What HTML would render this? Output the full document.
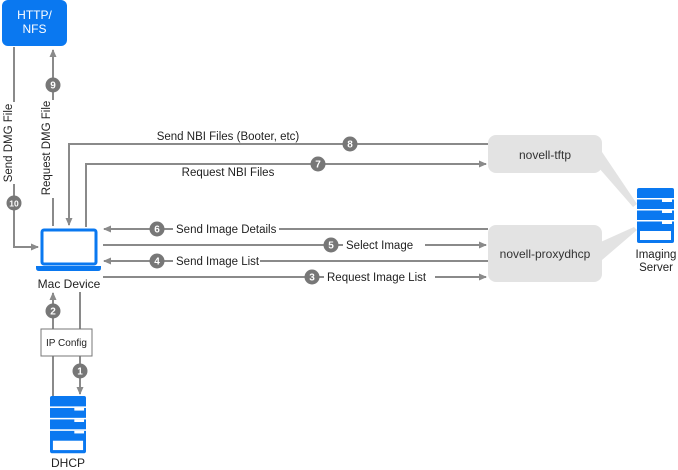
<!DOCTYPE html>
<html><head><meta charset="utf-8"><style>
html,body{margin:0;padding:0;background:#fff;}
svg{display:block;font-family:"Liberation Sans","DejaVu Sans",sans-serif;}
</style></head><body>
<svg width="678" height="470" viewBox="0 0 678 470" xmlns="http://www.w3.org/2000/svg">
<defs>
<marker id="ar" markerWidth="8" markerHeight="8" refX="7" refY="4" orient="auto" markerUnits="userSpaceOnUse">
<path d="M0,0.5 L8,4 L0,7.5 Z" fill="#8a8a8a"/></marker>
<g id="srv">
<rect x="0" y="0" width="37" height="55" rx="2" fill="#0a78f0"/>
<rect x="0" y="10" width="37" height="1.5" fill="#fff"/>
<rect x="0" y="21" width="37" height="1.5" fill="#fff"/>
<rect x="0" y="32" width="37" height="1.5" fill="#fff"/>
<rect x="25" y="11.5" width="10" height="2.5" fill="#fff"/>
<rect x="25" y="22.5" width="10" height="2.5" fill="#fff"/>
<rect x="25" y="33.5" width="10" height="2.5" fill="#fff"/>
<rect x="3" y="43" width="31" height="9" fill="#fff"/>
</g>
</defs>
<g stroke="#8a8a8a" stroke-width="2" fill="none">
<polyline points="14,47 14,247 38,247" marker-end="url(#ar)"/>
<line x1="53" y1="226" x2="53" y2="50" marker-end="url(#ar)"/>
<polyline points="488,144 69,144 69,225" marker-end="url(#ar)"/>
<polyline points="86,227 86,164 486,164" marker-end="url(#ar)"/>
<line x1="488" y1="229" x2="104" y2="229" marker-end="url(#ar)"/>
<line x1="103" y1="245" x2="486" y2="245" marker-end="url(#ar)"/>
<line x1="488" y1="261" x2="104" y2="261" marker-end="url(#ar)"/>
<line x1="103" y1="277" x2="486" y2="277" marker-end="url(#ar)"/>
<line x1="53" y1="396" x2="53" y2="293" marker-end="url(#ar)"/>
<line x1="80" y1="292" x2="80" y2="394" marker-end="url(#ar)"/>
</g>
<polygon points="592,160 602,152 637,204 633,207" fill="#e3e3e3"/>
<polygon points="594,245 602,260 637,230 634,227" fill="#e3e3e3"/>
<rect x="488" y="135" width="114" height="38" rx="8" fill="#e3e3e3"/>
<rect x="488" y="225" width="114" height="57" rx="8" fill="#e3e3e3"/>
<text x="545" y="159" font-size="12" text-anchor="middle" fill="#333">novell-tftp</text>
<text x="545" y="258" font-size="12" text-anchor="middle" fill="#333">novell-proxydhcp</text>
<rect x="2" y="0" width="65" height="46" rx="6" fill="#0a78f0"/>
<text x="34.5" y="19" font-size="12" text-anchor="middle" fill="#fff">HTTP/</text>
<text x="34.5" y="33" font-size="12" text-anchor="middle" fill="#fff">NFS</text>
<rect x="42" y="230" width="54" height="34" rx="2" fill="#fff" stroke="#0a78f0" stroke-width="3"/>
<path d="M36,266 H101 V268 Q101,271 98,271 H39 Q36,271 36,268 Z" fill="#0a78f0"/>
<text x="69" y="288" font-size="12" text-anchor="middle" fill="#222">Mac Device</text>
<use href="#srv" x="637" y="188"/>
<text x="656" y="258" font-size="11.5" text-anchor="middle" fill="#222">Imaging</text>
<text x="656" y="271" font-size="11.5" text-anchor="middle" fill="#222">Server</text>
<use href="#srv" x="50" y="396" transform="translate(50,396) scale(0.973,1.04) translate(-50,-396)"/>
<text x="68" y="467" font-size="12" text-anchor="middle" fill="#222">DHCP</text>
<rect x="41" y="329" width="51" height="27" fill="#fff" stroke="#777" stroke-width="1"/>
<text x="66.5" y="346" font-size="10" text-anchor="middle" fill="#222">IP Config</text>
<rect x="2" y="102" width="14" height="82" fill="#fff"/>
<text transform="translate(12,143) rotate(-90)" font-size="11.5" text-anchor="middle" fill="#222">Send DMG File</text>
<rect x="40" y="100" width="15" height="98" fill="#fff"/>
<text transform="translate(50,148) rotate(-90)" font-size="11.5" text-anchor="middle" fill="#222">Request DMG File</text>
<rect x="155" y="128" width="147" height="13" fill="#fff"/>
<text x="228" y="140" font-size="11.5" text-anchor="middle" fill="#222">Send NBI Files (Booter, etc)</text>
<text x="228" y="176" font-size="11.5" text-anchor="middle" fill="#222">Request NBI Files</text>
<rect x="173" y="222" width="106" height="14" fill="#fff"/>
<text x="176" y="233" font-size="11.5" fill="#222">Send Image Details</text>
<rect x="343" y="238" width="82" height="14" fill="#fff"/>
<text x="346" y="249" font-size="11.5" fill="#222">Select Image</text>
<rect x="173" y="254" width="87" height="14" fill="#fff"/>
<text x="176" y="265" font-size="11.5" fill="#222">Send Image List</text>
<rect x="324" y="270" width="111" height="14" fill="#fff"/>
<text x="327" y="281" font-size="11.5" fill="#222">Request Image List</text>
<g font-size="10" font-weight="bold" text-anchor="middle" fill="#fff">
<circle cx="14" cy="203" r="7.5" fill="#777"/><text x="14" y="206.5" font-size="8.5">10</text>
<circle cx="53" cy="85" r="7.5" fill="#777"/><text x="53" y="88.5">9</text>
<circle cx="350" cy="144" r="7.5" fill="#777"/><text x="350" y="147.5">8</text>
<circle cx="318" cy="164" r="7.5" fill="#777"/><text x="318" y="167.5">7</text>
<circle cx="157" cy="229" r="7.5" fill="#777"/><text x="157" y="232.5">6</text>
<circle cx="331" cy="245" r="7.5" fill="#777"/><text x="331" y="248.5">5</text>
<circle cx="157" cy="261" r="7.5" fill="#777"/><text x="157" y="264.5">4</text>
<circle cx="312" cy="277" r="7.5" fill="#777"/><text x="312" y="280.5">3</text>
<circle cx="53" cy="311" r="7.5" fill="#777"/><text x="53" y="314.5">2</text>
<circle cx="80" cy="371" r="7.5" fill="#777"/><text x="80" y="374.5">1</text>
</g>
</svg>
</body></html>
